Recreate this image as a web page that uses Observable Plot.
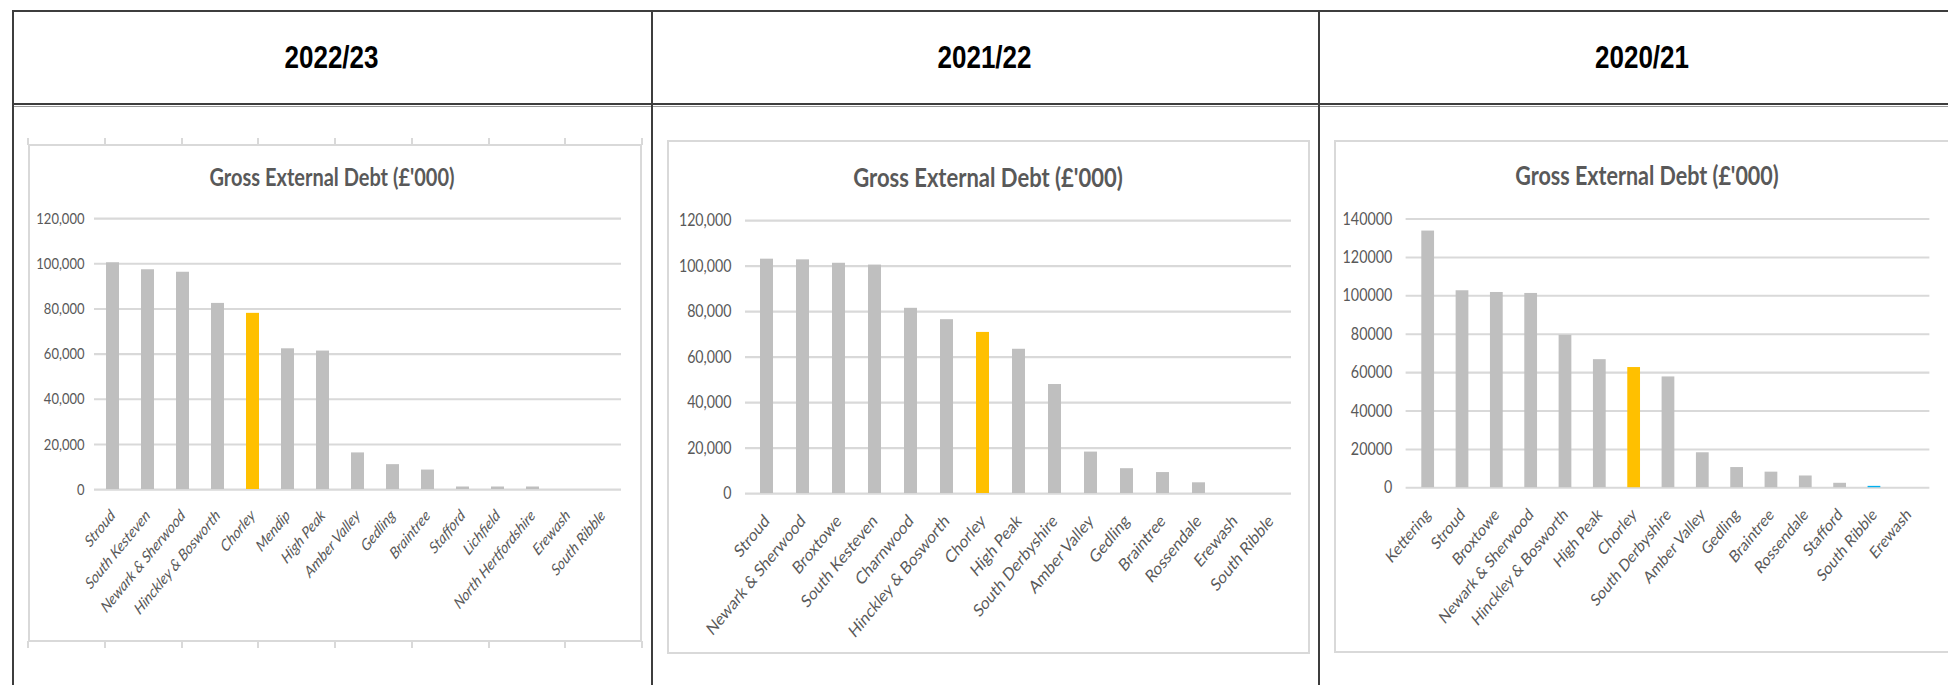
<!DOCTYPE html>
<html><head><meta charset="utf-8">
<script src="https://cdn.jsdelivr.net/npm/d3@7"></script>
<script src="https://cdn.jsdelivr.net/npm/@observablehq/plot@0.6"></script>
<style>
body{margin:0;background:#fff;width:1948px;height:685px;overflow:hidden;position:relative;font-family:Lato,sans-serif;}
.line{position:absolute;background:#3d3d3d;}
.hdr{position:absolute;font:bold 26px "Liberation Sans",Arial,sans-serif;color:#000;text-align:center;line-height:26px;transform:scaleY(1.22);}
.frame{position:absolute;border:2px solid #d9d9d9;box-sizing:border-box;}
.tick{position:absolute;width:2px;height:7px;background:#d9d9d9;}
.title{position:absolute;font-family:Lato,sans-serif;font-weight:bold;color:#595959;white-space:nowrap;line-height:1;transform:translate(-50%,-50%) scaleY(1.22);}
.chart{position:absolute;transform-origin:0 0;}
</style></head><body>
<script>
// ---- data ----
const years = ["2022/23", "2021/22", "2020/21"];
const chartTitle = "Gross External Debt (£'000)";

const councils2223 = ["Stroud","South Kesteven","Newark & Sherwood","Hinckley & Bosworth","Chorley","Mendip","High Peak","Amber Valley","Gedling","Braintree","Stafford","Lichfield","North Hertfordshire","Erewash","South Ribble"];
const debt2223 = [100400, 97300, 96200, 82400, 78000, 62300, 61300, 16200, 11000, 8600, 1100, 1100, 1100, 0, 0];

const councils2122 = ["Stroud","Newark & Sherwood","Broxtowe","South Kesteven","Charnwood","Hinckley & Bosworth","Chorley","High Peak","South Derbyshire","Amber Valley","Gedling","Braintree","Rossendale","Erewash","South Ribble"];
const debt2122 = [103000, 102700, 101200, 100400, 81400, 76400, 70800, 63400, 47900, 18200, 10900, 9200, 4700, 0, 0];

const councils2021 = ["Kettering","Stroud","Broxtowe","Newark & Sherwood","Hinckley & Bosworth","High Peak","Chorley","South Derbyshire","Amber Valley","Gedling","Braintree","Rossendale","Stafford","South Ribble","Erewash"];
const debt2021 = [133700, 102600, 101700, 101200, 79400, 66700, 62600, 57700, 18200, 10500, 8100, 6100, 2300, 700, 0];

const ticks2223 = [0, 20000, 40000, 60000, 80000, 100000, 120000];
const ticks2122 = [0, 20000, 40000, 60000, 80000, 100000, 120000];
const ticks2021 = [0, 20000, 40000, 60000, 80000, 100000, 120000, 140000];

// ---- styles ----
const GREY = "#BFBFBF", ORANGE = "#FFC000", BLUE = "#00B0F0", TEXT = "#595959", GRID = "#D9D9D9";
const STRETCH = 1.22; // the pasted chart pictures are stretched vertically
function barColor(name, highlightBlue) {
  if (name === "Chorley") return ORANGE;
  if (highlightBlue && name === "South Ribble") return BLUE;
  return GREY;
}

function add(el, cls, css) {
  const d = document.createElement("div");
  if (cls) d.className = cls;
  Object.assign(d.style, css);
  el.appendChild(d);
  return d;
}

// ---- table ----
const body = document.body;
add(body, "line", {left: "12px", top: "10px", width: "1960px", height: "2px"});
add(body, "line", {left: "12px", top: "103px", width: "1960px", height: "2px"});
add(body, "line", {left: "12px", top: "106px", width: "1960px", height: "1px", background: "#9a9a9a"});
const cols = [[12, 651], [651, 1318], [1318, 1966]];
cols.forEach(([a, b], i) => {
  add(body, "line", {left: a + "px", top: "10px", width: "2px", height: "700px"});
  const h = add(body, "hdr", {left: a + "px", width: (b - a) + "px", top: "44px"});
  h.textContent = years[i];
});

// ---- charts ----
function makeChart(cfg) {
  const data = cfg.names.map((n, i) => ({name: n, value: cfg.values[i]}));
  const top = cfg.ticks[cfg.ticks.length - 1];
  return Plot.plot({
    width: cfg.width, height: cfg.height / STRETCH,
    marginLeft: cfg.mL, marginRight: cfg.mR, marginTop: cfg.mT / STRETCH, marginBottom: cfg.mB / STRETCH,
    style: {fontFamily: "Lato, sans-serif", color: TEXT, background: "transparent", overflow: "visible"},
    x: {domain: cfg.names, paddingInner: 0.64, paddingOuter: 0.32, label: null},
    y: {domain: [0, top], label: null},
    color: {type: "identity"},
    marks: [
      Plot.gridY(cfg.ticks, {stroke: GRID, strokeOpacity: 1, strokeWidth: 1.7}),
      Plot.barY(data, {x: "name", y: "value", fill: d => barColor(d.name, cfg.blue)}),
      Plot.axisY(cfg.ticks, {tickSize: 0, tickPadding: cfg.yPad, tickFormat: cfg.fmt, fontSize: cfg.yFont, fill: TEXT}),
      Plot.axisX({tickSize: 0, tickPadding: cfg.xPad, tickRotate: -45, fontSize: cfg.xFont, fill: TEXT, fontStyle: cfg.italic ? "italic" : "normal"})
    ]
  });
}

const charts = [
  {frame: [28, 144, 614, 498], names: councils2223, values: debt2223, ticks: ticks2223, fmt: d3.format(","),
   mL: 66, mR: 21, mT: 74, mB: 153, yPad: 10, xPad: 19, yFont: 13, xFont: 13.3, italic: true, blue: false,
   title: {x: 332, y: 176, size: 20}, frameTicks: true},
  {frame: [667, 140, 643, 514], names: councils2122, values: debt2122, ticks: ticks2122, fmt: d3.format(","),
   mL: 78, mR: 19, mT: 80, mB: 161, yPad: 14, xPad: 20, yFont: 14.2, xFont: 14.6, italic: false, blue: false,
   title: {x: 988, y: 177, size: 22}},
  {frame: [1334, 140, 626, 513], names: councils2021, values: debt2021, ticks: ticks2021, fmt: d3.format("d"),
   mL: 73, mR: 19, mT: 80, mB: 159, yPad: 14, xPad: 20, yFont: 14.6, xFont: 14.2, italic: false, blue: true,
   title: {x: 1647, y: 176, size: 21.5}}
];

charts.forEach(c => {
  const [fx, fy, fw, fh] = c.frame;
  add(body, "frame", {left: fx + "px", top: fy + "px", width: fw + "px", height: fh + "px"});
  if (c.frameTicks) {
    for (let k = 0; k < 9; k++) {
      const tx = fx + k * (fw / 8);
      add(body, "tick", {left: (tx - 1) + "px", top: (fy - 6) + "px"});
      add(body, "tick", {left: (tx - 1) + "px", top: (fy + fh - 1) + "px"});
    }
  }
  const t = add(body, "title", {left: c.title.x + "px", top: c.title.y + "px", fontSize: c.title.size + "px"});
  t.textContent = chartTitle;
  const holder = add(body, "chart", {left: fx + "px", top: fy + "px", transform: `scaleY(${STRETCH})`});
  holder.appendChild(makeChart({...c, width: fw, height: fh}));
});
</script>
</body></html>
